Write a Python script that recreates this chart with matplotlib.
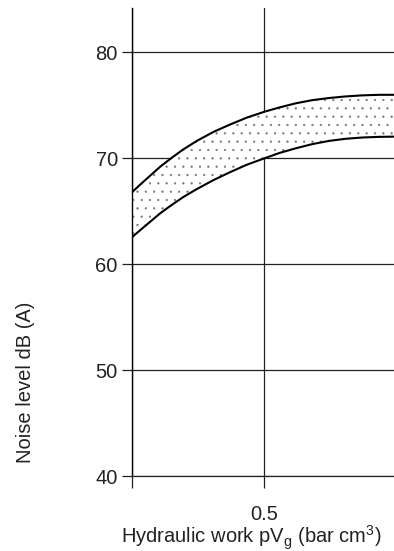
import matplotlib
matplotlib.use("Agg")
import matplotlib.pyplot as plt

# Werte
arbeit = [0.0, 0.03, 0.068, 0.106, 0.15, 0.194, 0.245, 0.308, 0.371, 0.434,
          0.5, 0.556, 0.619, 0.682, 0.745, 0.808, 0.871, 0.934, 0.99]
pegel_oben = [66.8, 67.5, 68.35, 69.2, 70.05, 70.85, 71.65, 72.5, 73.2, 73.85,
              74.4, 74.8, 75.2, 75.5, 75.7, 75.85, 75.95, 76.0, 76.0]
pegel_unten = [62.55, 63.2, 64.0, 64.8, 65.6, 66.35, 67.1, 67.95, 68.7, 69.4,
               70.0, 70.5, 70.95, 71.35, 71.65, 71.85, 71.97, 72.03, 72.05]
y_ticks = [40, 50, 60, 70, 80]
x_ticks = [0.0, 0.5]
x_ticklabels = ["", "0.5"]

plt.rcParams['font.family'] = ['Liberation Sans', 'DejaVu Sans']
plt.rcParams['hatch.linewidth'] = 0.4

fig = plt.figure(figsize=(3.94, 5.51), dpi=100)
ax = fig.add_axes([132 / 394, 75 / 551, 1 - 132 / 394, (543 - 75) / 551])

# Band mit Punktraster
ax.fill_between(arbeit, pegel_unten, pegel_oben, facecolor='white',
                hatch='..', edgecolor='#777777', linewidth=0, zorder=2)
ax.plot(arbeit, pegel_oben, color='black', linewidth=1.5, zorder=3,
        solid_joinstyle='round')
ax.plot(arbeit, pegel_unten, color='black', linewidth=1.5, zorder=3,
        solid_joinstyle='round')

ax.set_xlim(0, 0.99)
ax.set_ylim(40, 84.2)

ax.set_yticks(y_ticks)
ax.set_xticks(x_ticks)
ax.set_xticklabels(x_ticklabels)
ax.tick_params(axis='y', direction='out', length=7.2, width=0.9, color='#222222',
               pad=3, labelsize=14.5, labelcolor='#222222')
ax.tick_params(axis='x', direction='out', length=8.6, width=0.9, color='#222222',
               pad=12, labelsize=14.5, labelcolor='#222222')

ax.grid(True, color='#222222', linewidth=0.9, zorder=1)
ax.set_axisbelow(True)

for lado in ['top', 'right']:
    ax.spines[lado].set_visible(False)
ax.spines['left'].set_color('black')
ax.spines['left'].set_linewidth(1.0)
ax.spines['bottom'].set_color('#222222')
ax.spines['bottom'].set_linewidth(0.9)

fig.text(26 / 394, 1 - 382 / 551, "Noise level dB (A)", rotation=90,
         ha='center', va='center', fontsize=14.5, color='#222222')
fig.text(251.5 / 394, 1 - 543 / 551,
         r"Hydraulic work pV$_\mathregular{g}$ (bar cm$^\mathregular{3}$)",
         ha='center', va='baseline', fontsize=14.5, color='#222222')

fig.savefig("out.png", dpi=100)
